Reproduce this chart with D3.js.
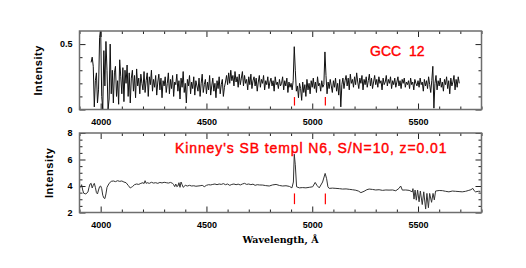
<!DOCTYPE html>
<html>
<head>
<meta charset="utf-8">
<script src="https://cdn.jsdelivr.net/npm/d3@7"></script>
<style>
  body { margin: 0; background: #fff; }
</style>
</head>
<body>
<div id="chart"></div>
<script>
// GCC 12 spectrum, every 5 A starting at 3955 A
const gccStart = 3955;
const gccStep = 5;
const gccFlux = [
  0.36,0.40,0.33,0.02,0.22,0.28,0.05,0.15,0.55,0.62,
  0.10,0.00,0.45,0.18,0.52,0.30,0.00,0.08,0.50,0.12,
  0.30,0.05,0.28,0.33,0.10,0.22,0.04,0.38,0.25,0.12,
  0.32,0.06,0.30,0.20,0.34,0.10,0.28,0.05,0.24,0.30,
  0.14,0.26,0.09,0.31,0.18,0.24,0.12,0.27,0.20,0.15,
  0.29,0.13,0.22,0.28,0.10,0.25,0.19,0.30,0.14,0.23,
  0.17,0.26,0.11,0.21,0.27,0.15,0.24,0.09,0.22,0.18,
  0.25,0.13,0.20,0.28,0.12,0.23,0.16,0.26,0.10,0.21,
  0.19,0.27,0.14,0.22,0.08,0.24,0.17,0.29,0.13,0.20,
  0.05,0.23,0.18,0.26,0.12,0.21,0.16,0.25,0.11,0.22,
  0.18,0.14,0.24,0.10,0.20,0.27,0.13,0.19,0.23,0.12,
  0.21,0.15,0.26,0.11,0.18,0.24,0.14,0.20,0.09,0.22,
  0.16,0.25,0.12,0.19,0.23,0.10,0.17,0.21,0.26,0.19,
  0.28,0.20,0.30,0.22,0.26,0.18,0.29,0.21,0.25,0.17,
  0.27,0.19,0.24,0.29,0.18,0.26,0.20,0.23,0.15,0.25,
  0.19,0.27,0.16,0.22,0.25,0.18,0.24,0.14,0.21,0.26,
  0.17,0.23,0.20,0.26,0.15,0.22,0.19,0.25,0.16,0.21,
  0.24,0.18,0.22,0.14,0.25,0.19,0.21,0.16,0.23,0.18,
  0.20,0.25,0.15,0.22,0.18,0.24,0.13,0.21,0.17,0.20,
  0.15,0.22,0.48,0.30,0.14,0.18,0.09,0.20,0.16,0.07,
  0.21,0.13,0.19,0.10,0.23,0.15,0.20,0.12,0.22,0.17,
  0.24,0.16,0.21,0.13,0.25,0.18,0.20,0.14,0.22,0.17,
  0.19,0.44,0.26,0.12,0.21,0.16,0.23,0.18,0.13,0.22,
  0.17,0.24,0.14,0.20,0.11,0.23,0.02,0.19,0.24,0.16,
  0.22,0.26,0.18,0.24,0.15,0.27,0.20,0.23,0.17,0.25,
  0.19,0.28,0.21,0.16,0.24,0.20,0.26,0.15,0.23,0.19,
  0.25,0.17,0.22,0.27,0.18,0.24,0.16,0.21,0.26,0.19,
  0.23,0.17,0.25,0.20,0.22,0.15,0.24,0.19,0.21,0.26,
  0.18,0.23,0.20,0.25,0.16,0.22,0.19,0.24,0.17,0.21,
  0.25,0.18,0.22,0.16,0.23,0.20,0.24,0.17,0.21,0.19,
  0.22,0.16,0.24,0.19,0.21,0.15,0.23,0.20,0.18,0.22,
  0.17,0.24,0.19,0.21,0.14,0.23,0.18,0.22,0.16,0.25,
  0.19,0.13,0.22,0.33,0.01,0.20,0.26,0.15,0.22,0.18,
  0.24,0.17,0.21,0.14,0.23,0.19,0.25,0.16,0.22,0.12,
  0.24,0.18,0.21,0.26,0.15,0.23,0.17,0.25,0.20
];

// Kinney SB template (wavelength, intensity)
const templPoints = [
  [3900,4.05],[3905,3.90],[3910,4.10],[3915,3.70],[3920,3.45],[3930,3.40],[3940,3.55],[3945,3.90],
  [3950,4.15],[3955,4.20],[3960,3.85],[3965,4.05],[3970,4.20],[3975,3.90],[3980,3.50],[3985,3.40],
  [3990,3.70],[3995,3.95],[4000,4.00],[4005,3.80],[4010,3.30],[4015,3.10],[4020,3.05],[4025,3.40],
  [4030,3.90],[4040,4.20],[4050,4.35],[4060,4.38],[4070,4.33],[4080,4.40],[4090,4.35],[4100,4.38],
  [4110,4.30],[4120,4.25],[4130,4.05],[4140,3.85],[4145,3.90],[4150,3.95],[4160,4.10],[4170,4.15],
  [4180,4.12],[4190,4.20],[4200,4.25],[4205,4.18],[4210,4.40],[4215,4.20],[4220,4.25],[4230,4.20],
  [4240,4.28],[4250,4.22],[4260,4.25],[4270,4.20],[4280,4.27],[4290,4.23],[4300,4.28],[4310,4.25],
  [4320,4.22],[4330,4.27],[4340,4.20],[4345,4.10],[4350,3.95],[4355,4.15],[4360,3.95],[4365,4.00],
  [4370,4.25],[4375,3.90],[4380,4.30],[4385,4.10],[4390,3.90],[4400,4.05],[4410,4.00],[4420,4.05],
  [4430,4.00],[4440,4.02],[4450,3.98],[4460,4.00],[4470,4.02],[4480,4.05],[4490,3.95],[4500,4.05],
  [4510,4.10],[4520,4.08],[4530,4.12],[4540,4.15],[4550,4.10],[4560,4.15],[4570,4.12],[4580,4.18],
  [4590,4.10],[4600,4.15],[4610,4.05],[4620,4.12],[4630,4.15],[4640,4.10],[4650,4.14],[4660,4.08],
  [4670,4.15],[4680,4.20],[4690,4.12],[4700,4.15],[4710,4.10],[4720,4.14],[4730,4.05],[4740,4.10],
  [4750,4.08],[4766,4.07],[4780,4.03],[4797,4.00],[4812,4.08],[4829,4.12],[4845,4.04],[4860,4.00],
  [4876,4.02],[4892,3.97],[4904,3.86],[4911,4.30],[4915,6.40],[4920,5.60],[4926,3.94],[4939,3.86],
  [4955,3.88],[4970,3.86],[4986,3.90],[5002,3.94],[5014,4.27],[5022,4.05],[5033,3.86],[5049,4.30],
  [5061,4.95],[5068,4.55],[5074,3.94],[5080,3.82],[5096,3.84],[5112,3.82],[5128,3.80],[5143,3.77],
  [5160,3.78],[5175,3.75],[5190,3.72],[5206,3.68],[5218,3.62],[5230,3.50],[5245,3.60],[5258,3.72],
  [5269,3.77],[5285,3.74],[5300,3.70],[5316,3.72],[5332,3.67],[5348,3.70],[5363,3.69],[5380,3.70],
  [5395,3.64],[5410,3.82],[5418,4.00],[5426,3.69],[5442,3.70],[5458,3.67],[5473,3.56],[5476,3.80],
  [5481,3.01],[5486,3.69],[5492,2.93],[5498,3.69],[5505,2.81],[5511,3.62],[5520,2.60],[5527,3.56],
  [5536,2.26],[5542,3.44],[5549,2.36],[5555,3.44],[5564,2.77],[5571,3.44],[5577,2.95],[5583,3.62],
  [5600,3.66],[5615,3.65],[5630,3.60],[5646,3.56],[5662,3.62],[5678,3.60],[5694,3.58],[5709,3.56],
  [5725,3.60],[5740,3.67],[5750,3.72],[5759,3.82],[5765,3.65],[5772,3.56],[5785,3.60],[5795,3.60]
];

// red marks under the emission lines
const lineMarks = [4916, 5062];

const xDomain = [3900, 5800];
const xMajorTicks = [4000, 4500, 5000, 5500];
const xMinorTicks = [3900, 4100, 4200, 4300, 4400, 4600, 4700, 4800, 4900,
                     5100, 5200, 5300, 5400, 5600, 5700, 5800];

const gccYMajor = [0, 0.5];
const gccYMinor = [0.1, 0.2, 0.3, 0.4];
const templYMajor = [2, 4, 6, 8];
const templYMinor = [2.5, 3, 3.5, 4.5, 5, 5.5, 6.5, 7, 7.5];

const svg = d3.select("#chart").append("svg")
  .attr("width", 526)
  .attr("height", 268);

const left = 79.5, right = 481.5;
const plain = d => String(d);

class SpectrumPanel {
  constructor(_config) {
    this.config = {
      top: _config.top,
      bottom: _config.bottom,
      yDomain: _config.yDomain,
      yMajor: _config.yMajor,
      yMinor: _config.yMinor,
      markRange: _config.markRange,
      titleX: _config.titleX,
      id: _config.id
    };
    this.initVis();
  }

  initVis() {
    let vis = this;
    vis.x = d3.scaleLinear().domain(xDomain).range([left, right]);
    vis.y = d3.scaleLinear().domain(vis.config.yDomain).range([vis.config.bottom, vis.config.top]);

    vis.g = svg.append("g");

    vis.g.append("clipPath").attr("id", "clip-" + vis.config.id)
      .append("rect")
      .attr("x", left).attr("y", vis.config.top)
      .attr("width", right - left).attr("height", vis.config.bottom - vis.config.top);
  }

  axisGroup(axis, tx, ty, labels) {
    let vis = this;
    let g = vis.g.append("g")
      .attr("transform", `translate(${tx},${ty})`)
      .call(axis);
    g.select(".domain").remove();
    g.selectAll("line").attr("stroke", "#222").attr("stroke-width", 1);
    g.selectAll("text")
      .attr("fill", "#000")
      .style("font-family", "'Liberation Sans', Arial, sans-serif")
      .style("font-weight", "bold")
      .style("font-size", "9px");
    if (!labels) g.selectAll("text").remove();
    return g;
  }

  renderVis(points, color) {
    let vis = this;
    let c = vis.config;

    //ticks on all four sides, pointing inward
    vis.axisGroup(d3.axisBottom(vis.x).tickValues(xMajorTicks).tickFormat(plain).tickSizeInner(-6).tickSizeOuter(0).tickPadding(9), 0, c.bottom, true);
    vis.axisGroup(d3.axisBottom(vis.x).tickValues(xMinorTicks).tickSizeInner(-3).tickSizeOuter(0), 0, c.bottom, false);
    vis.axisGroup(d3.axisTop(vis.x).tickValues(xMajorTicks).tickSizeInner(-6).tickSizeOuter(0), 0, c.top, false);
    vis.axisGroup(d3.axisTop(vis.x).tickValues(xMinorTicks).tickSizeInner(-3).tickSizeOuter(0), 0, c.top, false);
    vis.axisGroup(d3.axisLeft(vis.y).tickValues(c.yMajor).tickFormat(plain).tickSizeInner(-6).tickSizeOuter(0).tickPadding(7), left, 0, true);
    vis.axisGroup(d3.axisLeft(vis.y).tickValues(c.yMinor).tickSizeInner(-3).tickSizeOuter(0), left, 0, false);
    vis.axisGroup(d3.axisRight(vis.y).tickValues(c.yMajor).tickSizeInner(-6).tickSizeOuter(0), right, 0, false);
    vis.axisGroup(d3.axisRight(vis.y).tickValues(c.yMinor).tickSizeInner(-3).tickSizeOuter(0), right, 0, false);

    //spectrum
    let line = d3.line().x(d => vis.x(d[0])).y(d => vis.y(d[1]));
    vis.g.append("path")
      .datum(points)
      .attr("clip-path", `url(#clip-${c.id})`)
      .attr("d", line)
      .attr("fill", "none")
      .attr("stroke", color)
      .attr("stroke-width", 1)
      .attr("stroke-linejoin", "round");

    //red line marks
    vis.g.selectAll(".mark")
      .data(lineMarks)
      .enter()
      .append("line")
        .attr("x1", d => vis.x(d))
        .attr("x2", d => vis.x(d))
        .attr("y1", vis.y(c.markRange[0]))
        .attr("y2", vis.y(c.markRange[1]))
        .attr("stroke", "#ff0000")
        .attr("stroke-width", 1.2);

    //frame
    vis.g.append("rect")
      .attr("x", left).attr("y", c.top)
      .attr("width", right - left).attr("height", c.bottom - c.top)
      .attr("fill", "none")
      .attr("stroke", "#6e6e6e")
      .attr("stroke-width", 1.5);

    //y title
    vis.g.append("text")
      .attr("transform", `translate(${c.titleX},${(c.top + c.bottom) / 2}) rotate(-90)`)
      .attr("text-anchor", "middle")
      .attr("dy", "0.35em")
      .style("font-family", "'Liberation Sans', Arial, sans-serif")
      .style("font-weight", "bold")
      .style("font-size", "11px")
      .style("letter-spacing", "0.6px")
      .text("Intensity");
  }
}

let gccPanel = new SpectrumPanel({
  id: "gcc", top: 31, bottom: 109.5, yDomain: [0, 0.6],
  yMajor: gccYMajor, yMinor: gccYMinor, markRange: [0.03, 0.095], titleX: 38
});
gccPanel.renderVis(gccFlux.map((v, i) => [gccStart + i * gccStep, v]), "#111");

let templPanel = new SpectrumPanel({
  id: "templ", top: 133, bottom: 212.5, yDomain: [2, 8],
  yMajor: templYMajor, yMinor: templYMinor, markRange: [2.63, 3.44], titleX: 49
});
templPanel.renderVis(templPoints, "#333");

//labels in red, a thin outline makes them a bit heavier like the original
svg.append("text")
  .attr("x", 370).attr("y", 55.5)
  .attr("fill", "#ff0000")
  .attr("stroke", "#ff0000")
  .attr("stroke-width", 0.4)
  .style("font-family", "'Liberation Sans', Arial, sans-serif")
  .style("font-size", "14px")
  .style("white-space", "pre")
  .text("GCC  12");

svg.append("text")
  .attr("x", 175).attr("y", 152.5)
  .attr("fill", "#ff0000")
  .attr("stroke", "#ff0000")
  .attr("stroke-width", 0.4)
  .style("font-family", "'Liberation Sans', Arial, sans-serif")
  .style("font-size", "14px")
  .style("letter-spacing", "0.9px")
  .text("Kinney's SB templ N6, S/N=10, z=0.01");

//x title
svg.append("text")
  .attr("x", (left + right) / 2).attr("y", 243)
  .attr("text-anchor", "middle")
  .style("font-family", "'DejaVu Serif', serif")
  .style("font-weight", "bold")
  .style("font-size", "9.5px")
  .text("Wavelength, Å");
</script>
</body>
</html>
